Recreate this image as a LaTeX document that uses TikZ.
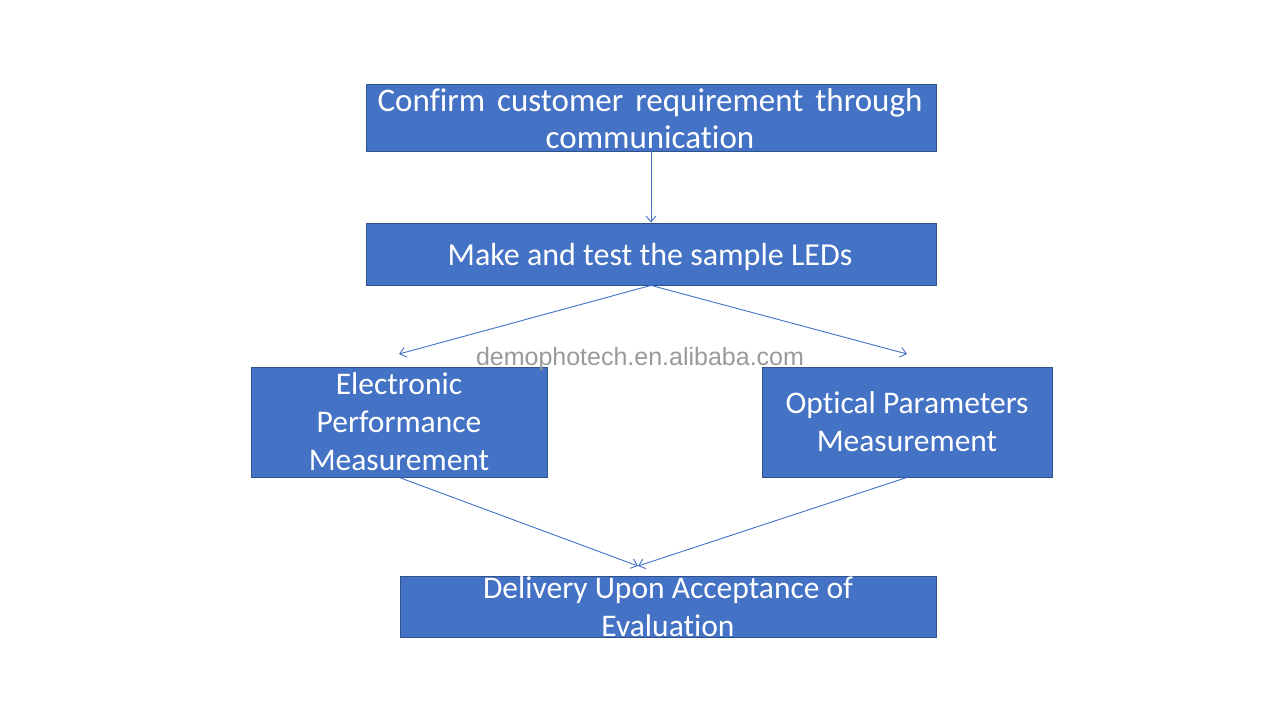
\documentclass[tikz,border=0pt]{standalone}
\usepackage{fontspec}
\setmainfont{Carlito}[Ligatures=CommonOff]
\newfontfamily\widefont{Carlito}[Ligatures=CommonOff, WordSpace=1.6]
\newfontfamily\wmfont{Liberation Sans}
\usetikzlibrary{arrows.meta}
\definecolor{boxfill}{HTML}{4472C4}
\definecolor{boxline}{HTML}{2F528F}
\definecolor{wm}{HTML}{9A9A9A}
\begin{document}
\begin{tikzpicture}[x=1pt,y=-1pt,
  stepbox/.style={draw=boxline, line width=0.8pt, fill=boxfill, text=white, align=center, inner sep=0pt, font=\fontsize{31.5}{38}\selectfont},
  conn/.style={draw=boxfill, line width=0.9pt, -{Straight Barb[length=6pt,width=10pt]}}]
\useasboundingbox (0,0) rectangle (1280,720);
\fill[white] (0,0) rectangle (1280,720);
\node[stepbox, minimum width=570pt, minimum height=67pt] (a) at (651,117.5) {};
\node[stepbox, draw=none, fill=none, font=\widefont\fontsize{33}{37}\selectfont] (at) at (650,119) {Confirm customer requirement through\\communication};
\node[stepbox, minimum width=570pt, minimum height=62pt] (b) at (651,254) {};
\node[stepbox, draw=none, fill=none, font=\fontsize{32}{38}\selectfont] (bt) at (650,257) {Make and test the sample LEDs};
\node[stepbox, minimum width=296pt, minimum height=110pt] (c) at (399,422) {Electronic\\Performance\\Measurement};
\node[stepbox, minimum width=290pt, minimum height=110pt] (d) at (907,422) {Optical Parameters\\Measurement};
\node[stepbox, minimum width=536pt, minimum height=61pt] (e) at (668,606.5) {Delivery Upon Acceptance of\\Evaluation};
\coordinate (cin) at (399,354);
\coordinate (din) at (907,354);
\coordinate (ein) at (638,566);
\draw[conn] (a.south) -- (b.north);
\draw[conn] (b.south) -- (cin);
\draw[conn] (b.south) -- (din);
\draw[conn] (c.south) -- (ein);
\draw[conn] (d.south) -- (ein);
\node[text=wm, font=\wmfont\fontsize{25}{30}\selectfont, inner sep=0pt] (wmk) at (640,359) {demophotech.en.alibaba.com};
\end{tikzpicture}
\end{document}
